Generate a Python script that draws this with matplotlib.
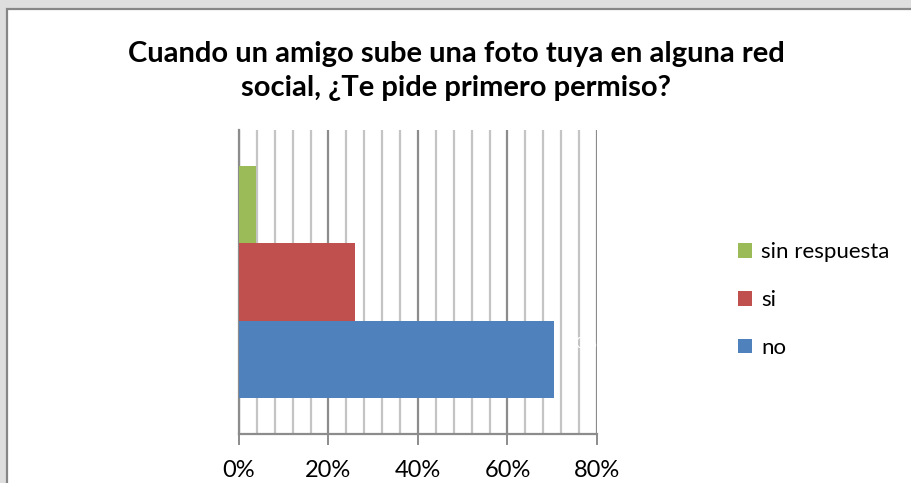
import matplotlib.pyplot as plt
from matplotlib.patches import Rectangle, Patch
from matplotlib.ticker import MultipleLocator, PercentFormatter

# ==============================================================
# Data
# ==============================================================
title = "Cuando un amigo sube una foto tuya en alguna red\nsocial, ¿Te pide primero permiso?"
series = ["no", "si", "sin respuesta"]
values = [70.4, 25.9, 3.7]
colors = ["#4f81bd", "#c0504d", "#9bbb59"]
x_ticks = [0, 20, 40, 60, 80]

plt.rcParams["font.family"] = ["Lato", "DejaVu Sans"]

# ==============================================================
# Figure / chart frame
# ==============================================================
fig = plt.figure(figsize=(9.12, 4.83), dpi=100)
fig.patch.set_facecolor("#dedede")
fig.patches.append(Rectangle((7 / 912, -0.1), 1.1, (483 - 9) / 483 + 0.1,
                             transform=fig.transFigure, facecolor="white",
                             edgecolor="#868686", linewidth=1.6, zorder=-5))

fig.text(0.5, 1 - 71 / 483, title, ha="center", va="center", fontsize=21,
         fontweight="bold", linespacing=1.35)

ax = fig.add_axes([239 / 912, 49 / 483, 358 / 912, 304 / 483])
ax.set_facecolor("none")

# bars, one per series in a single category
for i, (name, val, col) in enumerate(zip(series, values, colors)):
    ax.barh(i, val, height=1.0, color=col, label=name, zorder=3)

# hidden (white) data label as in the original
ax.text(values[0] + 3, 0.2, f"{values[0]:.0f}%", color="white",
        fontsize=11, va="center", zorder=4)

ax.set_xlim(0, 80)
ax.set_ylim(-0.974, 2.974)
ax.xaxis.set_major_locator(MultipleLocator(20))
ax.xaxis.set_minor_locator(MultipleLocator(4))
ax.xaxis.set_major_formatter(PercentFormatter(decimals=0))
ax.set_xticks(x_ticks)
ax.grid(which="major", axis="x", color="#8c8c8c", linewidth=1.6, zorder=1)
ax.grid(which="minor", axis="x", color="#c4c4c4", linewidth=1.6, zorder=1)
ax.tick_params(axis="x", which="major", length=8, width=1.4, color="#8c8c8c",
               labelsize=17, pad=11)
ax.tick_params(axis="x", which="minor", length=0)
ax.set_yticks([])
for s in ["top", "right"]:
    ax.spines[s].set_visible(False)
ax.spines["left"].set_color("#8c8c8c")
ax.spines["left"].set_linewidth(1.6)
ax.spines["bottom"].set_color("#8c8c8c")
ax.spines["bottom"].set_linewidth(1.6)

# ==============================================================
# Legend (reverse order, top = sin respuesta)
# ==============================================================
handles = [Patch(facecolor=c, edgecolor="none") for c in colors[::-1]]
fig.legend(handles, series[::-1], loc="center left",
           bbox_to_anchor=(718 / 912, 1 - 300 / 483), frameon=False,
           fontsize=16, handlelength=0.65, handleheight=0.65,
           handletextpad=0.4, labelspacing=1.25)

fig.savefig("out.png", dpi=100, facecolor=fig.get_facecolor())
